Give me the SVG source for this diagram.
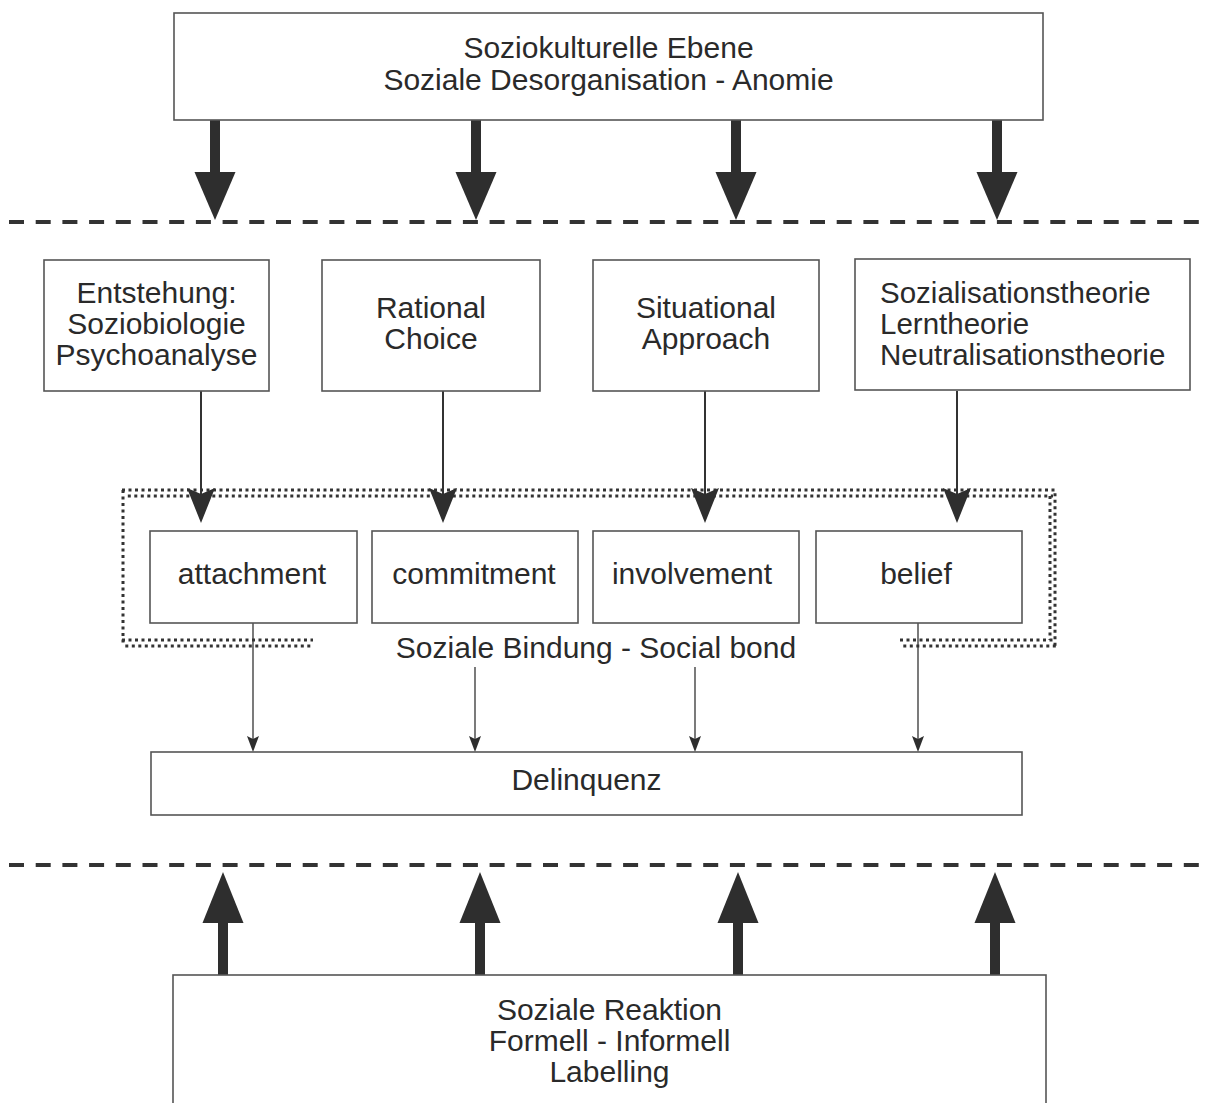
<svg xmlns="http://www.w3.org/2000/svg" width="1205" height="1103" viewBox="0 0 1205 1103">
<style>
.box{fill:#fff;stroke:#555;stroke-width:1.6}
.t{font-family:"Liberation Sans",Arial,sans-serif;font-size:30px;fill:#2a2a2a;text-anchor:middle}
.tl{font-family:"Liberation Sans",Arial,sans-serif;font-size:29.5px;fill:#2a2a2a}
.dash{stroke:#333;stroke-width:4;stroke-dasharray:15 11.7;fill:none}
.thick{fill:#2e2e2e}
.ln{stroke:#333;stroke-width:2;fill:none}
.thin{stroke:#333;stroke-width:1.3;fill:none}
.head{fill:#2e2e2e}
.dot{stroke:#333;stroke-width:3;stroke-dasharray:3 3.5;fill:none}
</style>
<rect width="1205" height="1103" fill="#fff"/>

<g id="layer-lines">
<line class="dash" x1="9" y1="222" x2="1205" y2="222"/>
<line class="dash" x1="9" y1="865" x2="1205" y2="865"/>
</g>

<g id="social-bond-frame">
<line class="dot" x1="122" y1="490" x2="1056" y2="490"/>
<line class="dot" x1="124.5" y1="496" x2="1053" y2="496" stroke-dashoffset="3.2"/>
<line class="dot" x1="123" y1="490" x2="123" y2="646"/>
<line class="dot" x1="1050" y1="496" x2="1050" y2="640"/>
<line class="dot" x1="1055" y1="490" x2="1055" y2="646" stroke-dashoffset="3.2"/>
<line class="dot" x1="122" y1="640" x2="313" y2="640"/>
<line class="dot" x1="122" y1="646" x2="313" y2="646" stroke-dashoffset="3.2"/>
<line class="dot" x1="900" y1="640" x2="1056" y2="640"/>
<line class="dot" x1="900" y1="646" x2="1056" y2="646" stroke-dashoffset="3.2"/>
<text class="t" x="596" y="658">Soziale Bindung - Social bond</text>
</g>

<g id="connectors">
<rect class="thick" x="210" y="120" width="10" height="53"/>
<path class="thick" d="M194.5,172 L235.5,172 L215,220 Z"/>
<rect class="thick" x="471" y="120" width="10" height="53"/>
<path class="thick" d="M455.5,172 L496.5,172 L476,220 Z"/>
<rect class="thick" x="731" y="120" width="10" height="53"/>
<path class="thick" d="M715.5,172 L756.5,172 L736,220 Z"/>
<rect class="thick" x="992" y="120" width="10" height="53"/>
<path class="thick" d="M976.5,172 L1017.5,172 L997,220 Z"/>
<rect class="thick" x="218" y="922" width="10" height="53"/>
<path class="thick" d="M202.5,923 L243.5,923 L223,872 Z"/>
<rect class="thick" x="475" y="922" width="10" height="53"/>
<path class="thick" d="M459.5,923 L500.5,923 L480,872 Z"/>
<rect class="thick" x="733" y="922" width="10" height="53"/>
<path class="thick" d="M717.5,923 L758.5,923 L738,872 Z"/>
<rect class="thick" x="990" y="922" width="10" height="53"/>
<path class="thick" d="M974.5,923 L1015.5,923 L995,872 Z"/>
<line class="ln" x1="201" y1="391" x2="201" y2="495"/>
<path class="head" d="M187,488 L201,494 L215,488 L201,523 Z"/>
<line class="ln" x1="443" y1="391" x2="443" y2="495"/>
<path class="head" d="M429,488 L443,494 L457,488 L443,523 Z"/>
<line class="ln" x1="705" y1="391" x2="705" y2="495"/>
<path class="head" d="M691,488 L705,494 L719,488 L705,523 Z"/>
<line class="ln" x1="957" y1="391" x2="957" y2="495"/>
<path class="head" d="M943,488 L957,494 L971,488 L957,523 Z"/>
<line class="thin" x1="253" y1="623" x2="253" y2="740"/>
<path class="head" d="M247,736 L253,739 L259,736 L253,752 Z"/>
<line class="thin" x1="475" y1="667" x2="475" y2="740"/>
<path class="head" d="M469,736 L475,739 L481,736 L475,752 Z"/>
<line class="thin" x1="695" y1="667" x2="695" y2="740"/>
<path class="head" d="M689,736 L695,739 L701,736 L695,752 Z"/>
<line class="thin" x1="918" y1="623" x2="918" y2="740"/>
<path class="head" d="M912,736 L918,739 L924,736 L918,752 Z"/>
</g>

<g id="node-soziokulturell">
<rect class="box" x="174" y="13" width="869" height="107"/>
<text class="t" x="608.5" y="58">Soziokulturelle Ebene</text>
<text class="t" x="608.5" y="90">Soziale Desorganisation - Anomie</text>
</g>

<g id="node-entstehung">
<rect class="box" x="44" y="260" width="225" height="131"/>
<text class="t" x="156.5" y="303">Entstehung:</text>
<text class="t" x="156.5" y="334">Soziobiologie</text>
<text class="t" x="156.5" y="365">Psychoanalyse</text>
</g>

<g id="node-rational">
<rect class="box" x="322" y="260" width="218" height="131"/>
<text class="t" x="431" y="318">Rational</text>
<text class="t" x="431" y="349">Choice</text>
</g>

<g id="node-situational">
<rect class="box" x="593" y="260" width="226" height="131"/>
<text class="t" x="706" y="318">Situational</text>
<text class="t" x="706" y="349">Approach</text>
</g>

<g id="node-sozialisation">
<rect class="box" x="855" y="259" width="335" height="131"/>
<text class="tl" x="880" y="303">Sozialisationstheorie</text>
<text class="tl" x="880" y="334">Lerntheorie</text>
<text class="tl" x="880" y="365">Neutralisationstheorie</text>
</g>

<g id="node-attachment">
<rect class="box" x="150" y="531" width="207" height="92"/>
<text class="t" x="252" y="584">attachment</text>
</g>
<g id="node-commitment">
<rect class="box" x="372" y="531" width="206" height="92"/>
<text class="t" x="474" y="584">commitment</text>
</g>
<g id="node-involvement">
<rect class="box" x="593" y="531" width="206" height="92"/>
<text class="t" x="692" y="584">involvement</text>
</g>
<g id="node-belief">
<rect class="box" x="816" y="531" width="206" height="92"/>
<text class="t" x="916" y="584">belief</text>
</g>

<g id="node-delinquenz">
<rect class="box" x="151" y="752" width="871" height="63"/>
<text class="t" x="586.5" y="790">Delinquenz</text>
</g>

<g id="node-reaktion">
<rect class="box" x="173" y="975" width="873" height="140"/>
<text class="t" x="609.5" y="1020">Soziale Reaktion</text>
<text class="t" x="609.5" y="1051">Formell - Informell</text>
<text class="t" x="609.5" y="1082">Labelling</text>
</g>
</svg>
